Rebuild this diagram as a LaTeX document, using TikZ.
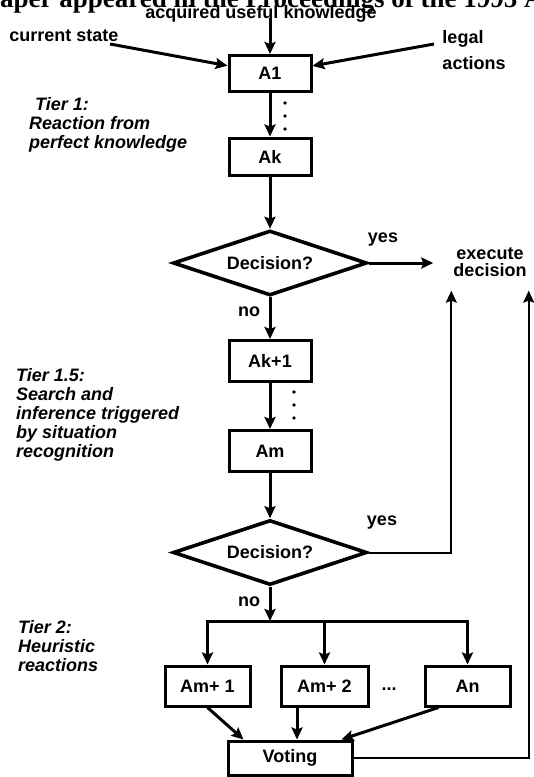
\documentclass[tikz,border=0pt]{standalone}
\usepackage{fontspec}
\setmainfont{Liberation Sans}
\newfontfamily\headfont{Liberation Serif}
\usetikzlibrary{arrows.meta}
\usetikzlibrary{shapes}
\usetikzlibrary{positioning}

\begin{document}
\begin{tikzpicture}[x=1pt, y=-1pt]
        \tikzset{every node/.style={font=\fontsize{18}{19}\selectfont\bfseries},
                >={Stealth[black, length=12pt, width=11pt, inset=2pt]},
                every edge/.style={draw=black, line width=3pt},
                act/.style={draw, line width=3pt, inner sep=0pt, minimum width=82pt, minimum height=37pt},
                decide/.style={draw, diamond, aspect=3, line width=3.6pt, inner sep=0pt, minimum width=194pt, minimum height=65pt},
                tier/.style={anchor=west, align=left, inner sep=0pt, font=\fontsize{18}{19}\selectfont\bfseries\itshape},
                flow/.style={draw=black, line width=3pt},
                feedback/.style={draw=black, line width=2pt}}

        \useasboundingbox (0, 0) rectangle (534, 777);
        \clip (0, 0) rectangle (534, 777);

        % cut off line above the figure
        \node[anchor=base west, inner sep=0pt, font=\headfont\fontsize{27}{27}\selectfont\bfseries] (0) at (-15, 7) {paper appeared in the Proceedings of the 1995 A};

        \node (1) at (261, 14) {acquired useful knowledge};
        \node (2) at (64, 36) {current state};
        \node[align=left, font=\fontsize{18}{26}\selectfont\bfseries] (3) at (474, 50) {legal\\actions};
        \node[act, minimum height=36pt] (4) at (270, 73.5) {A1};
        \node[act] (5) at (270, 156.5) {Ak};
        \node[decide] (6) at (270, 263) {Decision?};
        \node (7) at (383, 240) {yes};
        \node[align=center, font=\fontsize{18}{17}\selectfont\bfseries, inner xsep=2pt, inner ysep=14pt] (8) at (490, 262) {execute\\decision};
        \node (9) at (249, 312) {no};
        \node[act, minimum height=41pt] (10) at (270, 361) {Ak+1};
        \node[act, minimum height=41pt] (11) at (270, 451) {Am};
        \node[decide] (12) at (270, 552.5) {Decision?};
        \node (13) at (382, 523) {yes};
        \node (14) at (249, 602) {no};
        \node[act, minimum width=85pt, minimum height=40pt] (15) at (207.5, 686) {Am+ 1};
        \node[act, minimum width=87pt, minimum height=40pt] (16) at (324.5, 686) {Am+ 2};
        \node[act, minimum width=85pt, minimum height=40pt] (17) at (467.5, 686) {An};
        \node (18) at (389, 689) {...};
        \node[act, minimum width=124pt, minimum height=34pt] (19) at (290, 758) {Voting};

        \node[tier] (20) at (29, 125) {\hspace*{6pt}Tier 1:\\Reaction from\\perfect knowledge};
        \node[tier] (21) at (16, 414.5) {Tier 1.5:\\Search and\\inference triggered\\by situation\\recognition};
        \node[tier] (22) at (18, 646.5) {Tier 2:\\Heuristic\\reactions};

        % skipped actions
        \foreach \y in {103, 116, 129}
                \fill (285, \y) circle (1.8);
        \foreach \y in {392, 405, 418}
                \fill (294, \y) circle (1.8);

        \coordinate (k) at (270, 18);
        \coordinate (cs) at (110, 44);
        \coordinate (la) at (434, 44);
        \coordinate (br) at (270, 621);

        \path [->] (k) edge (4);
        \path [->] (cs) edge (4);
        \path [->] (la) edge (4);
        \path [->] (4) edge (5);
        \path [->] (5) edge (6);
        \path [->, shorten >=18pt] (6.east) edge (6.east -| 8.west);
        \path [->] (6) edge (10);
        \path [->] (10) edge (11);
        \path [->] (11) edge (12);
        \draw [->, feedback] (12.east) -| (8.south west);
        \path [->] (12) edge (br);
        \draw [->, flow] (br) -| (15);
        \draw [->, flow] (br) -| (17);
        \draw [->, flow] (br -| 16) -- (16);
        \path [->] (15.south) edge ([xshift=17pt]19.north west);
        \path [->] ([xshift=7pt]19.north |- 16.south) edge ([xshift=7pt]19.north);
        \path [->] ([xshift=15pt]17.south west) edge ([xshift=-12pt]19.north east);
        \draw [->, feedback] (19.east) -| (8.south east);

\end{tikzpicture}
\end{document}
